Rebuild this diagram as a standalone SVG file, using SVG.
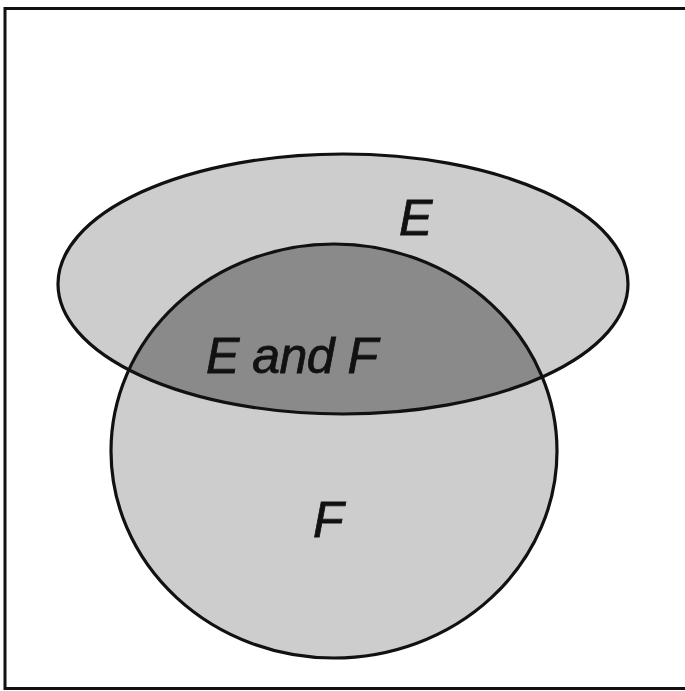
<svg xmlns="http://www.w3.org/2000/svg" width="685" height="691" viewBox="0 0 685 691">
<style>
.lbl{font-family:"Liberation Sans",Arial,sans-serif;font-style:italic;font-size:50px;fill:#111;stroke:#111;stroke-width:0.8}
.out{fill:none;stroke:#111;stroke-width:3.2}
</style>
<defs>
<clipPath id="clipE"><ellipse cx="343" cy="284" rx="285" ry="130"/></clipPath>
</defs>
<rect x="0" y="0" width="685" height="691" fill="#fff"/>
<rect x="5" y="8.5" width="690" height="680" fill="none" stroke="#111" stroke-width="3"/>
<g id="E">
<ellipse cx="343" cy="284" rx="285" ry="130" fill="#cdcdcd"/>
</g>
<g id="F">
<ellipse cx="334" cy="451" rx="223" ry="207" fill="#cdcdcd"/>
</g>
<g id="EandF">
<ellipse cx="334" cy="451" rx="223" ry="207" fill="#8a8a8a" clip-path="url(#clipE)"/>
</g>
<g id="outlines">
<ellipse class="out" cx="343" cy="284" rx="285" ry="130"/>
<ellipse class="out" cx="334" cy="451" rx="223" ry="207"/>
</g>
<text class="lbl" x="399" y="235">E</text>
<text class="lbl" x="206" y="373" letter-spacing="-0.5">E and F</text>
<text class="lbl" x="313" y="537">F</text>
</svg>
